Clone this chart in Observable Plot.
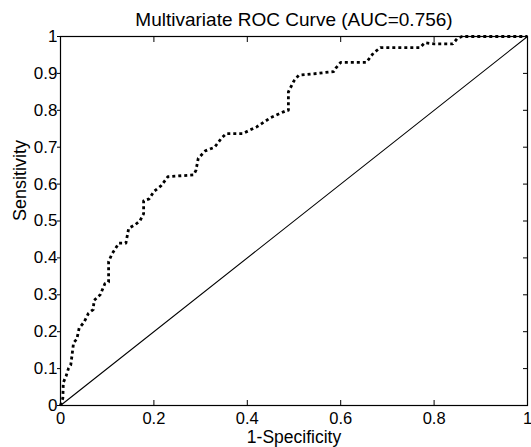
<!DOCTYPE html>
<html>
<head>
<meta charset="utf-8">
<script src="https://cdn.jsdelivr.net/npm/d3@7"></script>
<script src="https://cdn.jsdelivr.net/npm/@observablehq/plot@0.6"></script>
<style>
  html, body { margin: 0; padding: 0; background: #fff; }
  #chart svg { display: block; }
</style>
</head>
<body>
<div id="chart"></div>
<script>
const title = "Multivariate ROC Curve (AUC=0.756)";
const xLabel = "1-Specificity";
const yLabel = "Sensitivity";

const fpr = [0, 0.005, 0.006, 0.012, 0.017, 0.022, 0.028, 0.035, 0.04, 0.05, 0.06, 0.07, 0.072, 0.085, 0.095, 0.103, 0.103, 0.11, 0.125, 0.14, 0.146, 0.16, 0.17, 0.178, 0.178, 0.19, 0.2, 0.215, 0.23, 0.285, 0.29, 0.295, 0.31, 0.33, 0.345, 0.355, 0.39, 0.42, 0.45, 0.485, 0.488, 0.488, 0.5, 0.51, 0.55, 0.585, 0.59, 0.6, 0.655, 0.67, 0.685, 0.77, 0.78, 0.8, 0.84, 0.85, 0.86, 1];
const tpr = [0, 0.02, 0.062, 0.08, 0.10, 0.11, 0.17, 0.18, 0.21, 0.225, 0.25, 0.26, 0.285, 0.30, 0.33, 0.335, 0.39, 0.41, 0.44, 0.44, 0.48, 0.49, 0.5, 0.52, 0.555, 0.56, 0.58, 0.595, 0.62, 0.625, 0.637, 0.67, 0.69, 0.70, 0.725, 0.737, 0.737, 0.755, 0.78, 0.80, 0.80, 0.85, 0.88, 0.895, 0.9, 0.905, 0.915, 0.93, 0.93, 0.955, 0.97, 0.97, 0.983, 0.98, 0.98, 0.995, 1, 1];
const chanceX = [0, 1];
const chanceY = [0, 1];
const xTicks = [0, 0.2, 0.4, 0.6, 0.8, 1];
const yTicks = [0, 0.1, 0.2, 0.3, 0.4, 0.5, 0.6, 0.7, 0.8, 0.9, 1];

const roc = fpr.map((x, i) => ({x, y: tpr[i]}));
const chance = chanceX.map((x, i) => ({x, y: chanceY[i]}));
const fmt = d => String(d);
const FONT = "'Liberation Sans', Arial, Helvetica, sans-serif";

const chart = Plot.plot({
  width: 531,
  height: 447,
  marginLeft: 60,
  marginRight: 4,
  marginTop: 36,
  marginBottom: 42,
  style: {fontFamily: FONT, fontSize: "17px", color: "black", background: "white"},
  x: {domain: [0, 1]},
  y: {domain: [0, 1]},
  marks: [
    Plot.frame({stroke: "black", strokeWidth: 1.2}),
    // tick labels
    Plot.axisX({anchor: "bottom", ticks: xTicks, tickFormat: fmt, tickSize: 0, tickPadding: 7, label: null, fontSize: 16.5}),
    Plot.axisY({anchor: "left", ticks: yTicks, tickFormat: fmt, tickSize: 0, tickPadding: 3, label: null, fontSize: 17}),
    // inward tick marks
    Plot.axisX({anchor: "bottom", ticks: xTicks, tickSize: 5, dy: -5, tickFormat: () => "", label: null}),
    Plot.axisX({anchor: "top", ticks: xTicks, tickSize: 5, dy: 5, tickFormat: () => "", label: null}),
    Plot.axisY({anchor: "right", ticks: yTicks, tickSize: 5, dx: -5, tickFormat: () => "", label: null}),
    Plot.axisY({anchor: "left", ticks: yTicks, tickSize: 3, tickFormat: () => "", label: null}),
    // chance line
    Plot.line(chance, {x: "x", y: "y", stroke: "black", strokeWidth: 1.1}),
    // ROC curve
    Plot.line(roc, {x: "x", y: "y", stroke: "black", strokeWidth: 2.8, strokeDasharray: "3,3", strokeLinecap: "butt", curve: "linear"}),
    // title and axis labels
    Plot.text([title], {frameAnchor: "top", text: d => d, dy: -24, lineAnchor: "top", fontSize: 19, fill: "black"}),
    Plot.text([xLabel], {frameAnchor: "bottom", text: d => d, dy: 25, lineAnchor: "top", fontSize: 17.5, fill: "black"}),
    Plot.text([yLabel], {frameAnchor: "left", text: d => d, dx: -40, rotate: -90, lineAnchor: "middle", fontSize: 18, fill: "black"})
  ]
});
document.getElementById("chart").appendChild(chart);
</script>
</body>
</html>
